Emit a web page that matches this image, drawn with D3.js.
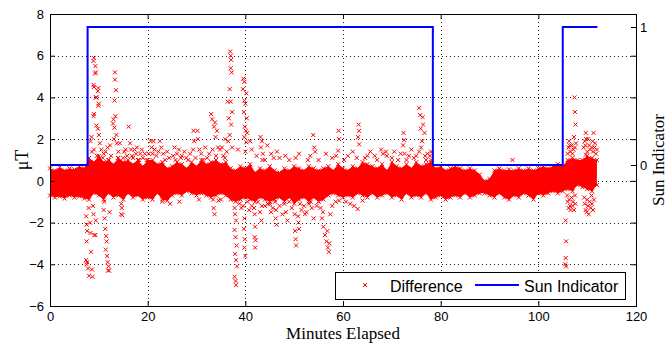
<!DOCTYPE html>
<html>
<head>
<meta charset="utf-8">
<script src="https://cdn.jsdelivr.net/npm/d3@7/dist/d3.min.js"></script>
<style>
  body { margin: 0; background: #fff; }
  svg { display: block; }
</style>
</head>
<body>
<div id="chart"></div>
<script>
// ---- data ----
var xTicks = [0, 20, 40, 60, 80, 100, 120];
var yTicks = [-6, -4, -2, 0, 2, 4, 6, 8];
var sunTicks = [0, 1];

// Sun indicator, step changes (minutes, state)
var sunMinutes = [0, 7.7, 78.4, 105.0, 112.1];
var sunState = [0, 1, 0, 1, 1];

// dense band of the difference (uT), upper / lower edge at each minute 0..112
var bandMinutes = d3.range(0, 113);
var bandHi = [
  0.6, 0.5, 0.65, 0.5, 0.6, 0.55, 0.7, 0.6, 1.1, 0.9,
  1.2, 0.9, 1.0, 0.8, 1.1, 0.9, 1.0, 0.8, 1.0, 0.7,
  1.0, 1.0, 0.8, 0.9, 0.6, 0.7, 0.9, 0.8, 0.6, 0.9,
  0.7, 1.0, 0.8, 0.9, 1.0, 0.8, 0.9, 0.6, 0.5, 0.7,
  0.6, 0.8, 0.4, 0.6, 0.5, 0.7, 0.5, 0.4, 0.6, 0.5,
  0.7, 0.6, 0.5, 0.7, 0.6, 0.5, 0.6, 0.7, 0.5, 0.8,
  0.6, 0.5, 0.7, 0.6, 0.9, 0.8, 0.7, 0.6, 0.8, 0.5,
  0.9, 0.7, 0.6, 0.8, 0.6, 0.9, 0.7, 0.8, 0.9, 0.6,
  0.7, 0.5, 0.6, 0.7, 0.6, 0.5, 0.6, 0.5, 0.3, 0.0,
  0.1, 0.5, 0.6, 0.5, 0.55, 0.5, 0.6, 0.5, 0.6, 0.5,
  0.6, 0.7, 0.6, 0.7, 0.8, 0.7, 1.0, 1.1, 1.0, 1.0,
  1.2, 1.1, 1.0
];
var bandLo = [
  -0.7, -0.8, -0.75, -0.85, -0.7, -0.8, -0.75, -0.85, -0.9, -0.6,
  -0.7, -0.9, -0.6, -0.8, -0.7, -0.9, -0.6, -0.8, -0.7, -0.9,
  -0.8, -0.9, -0.6, -0.9, -0.95, -0.7, -0.6, -0.7, -0.5, -0.6,
  -0.7, -0.6, -0.7, -0.8, -0.7, -0.6, -0.7, -0.9, -1.0, -0.9,
  -0.8, -0.9, -1.0, -0.8, -0.9, -1.0, -0.9, -0.8, -1.0, -0.8,
  -1.1, -0.9, -0.8, -1.0, -0.8, -1.0, -0.9, -0.7, -0.6, -0.7,
  -0.8, -0.7, -0.8, -0.6, -0.7, -0.8, -0.6, -0.8, -0.7, -0.6,
  -0.8, -0.7, -0.9, -0.6, -0.8, -0.7, -0.8, -0.6, -0.9, -0.8,
  -0.7, -0.9, -0.8, -0.7, -0.8, -0.6, -0.8, -0.7, -0.6, -0.6,
  -0.7, -0.8, -0.6, -0.8, -0.9, -0.7, -0.8, -0.6, -0.7, -0.9,
  -0.6, -0.7, -0.6, -0.5, -0.6, -0.5, -0.4, -0.5, -0.2, -0.3,
  -0.4, -0.5, -0.2
];

// isolated samples above the band [minute, uT]
var spikesUp = [
  [9.0,5.9],[8.9,5.75],[9.3,5.5],[9.4,5.2],[9.2,5.15],[9.0,4.5],[8.9,4.6],[9.8,4.3],[9.9,4.45],[9.4,4.0],
  [9.5,4.0],[9.9,3.6],[10.0,3.7],[8.9,3.1],[9.0,3.2],[9.5,2.65],[9.8,2.5],[10.0,2.2],[8.5,2.1],[8.3,1.9],[9.0,1.5],
  [13.3,5.2],[13.3,4.85],[13.5,4.35],[13.2,3.85],[13.4,3.1],[13.0,2.95],[12.9,2.75],[13.2,2.55],[13.6,2.2],[13.1,2.0],[13.7,1.8],
  [16.1,2.6],[16.4,1.8],[15.5,1.5],[17.8,1.6],[18.5,1.3],
  [20.6,1.9],[20.8,1.6],[21.0,1.3],[21.2,1.9],[21.4,1.5],
  [29.4,2.4],[29.5,1.9],[29.3,1.5],[30.2,2.4],[30.3,2.0],
  [33.0,3.2],[33.2,2.95],[33.6,2.6],[34.2,2.4],[33.8,2.8],[33.9,2.1],[34.4,1.6],
  [36.9,6.2],[37.0,6.0],[37.1,5.8],[37.0,5.4],[37.2,5.2],[36.8,4.4],[37.0,3.8],[36.4,3.8],[37.3,3.3],[36.6,3.0],
  [37.1,2.7],[36.8,2.2],[37.3,1.6],[36.5,1.9],
  [39.6,4.9],[39.8,4.75],[39.5,4.4],[40.2,4.2],[39.8,3.85],[40.0,3.7],[39.7,3.3],[40.3,3.0],[39.9,2.6],[40.1,2.4],
  [40.4,2.3],[39.8,2.1],[40.2,1.85],[40.0,1.4],
  [43.1,2.1],[43.4,1.9],[43.2,1.6],[43.6,1.3],[43.5,1.0],
  [53.9,2.2],[54.1,1.6],[54.3,1.4],[59.1,2.4],[59.2,2.0],[59.0,1.45],
  [63.2,2.7],[63.3,2.4],[63.1,2.1],[63.3,1.75],[67.8,1.5],[68.2,1.3],
  [72.4,2.3],[72.5,1.95],[72.3,1.7],[72.6,1.3],
  [75.6,3.5],[75.8,3.15],[76.3,3.05],[76.4,2.7],[75.9,2.5],[76.7,2.3],[76.2,1.9],[75.6,1.4],[76.8,1.2],[76.0,1.6],
  [78.0,1.4],[78.1,1.0],[94.7,1.0],
  [107.4,4.0],[107.5,3.3],[107.6,2.7],[107.3,2.1],[107.7,1.8],[107.5,1.6],[106.3,1.9],[106.4,1.7],
  [109.7,2.3],[109.8,2.0],[109.6,1.7],[109.7,1.25],[111.3,2.3],[111.5,1.6],[111.8,1.3],[111.1,1.9],
  [106.0,1.3],[106.2,1.6],[106.5,1.4],[106.8,1.7],[107.0,1.3],[107.2,1.5],[109.3,1.6],[109.5,1.9],
  [110.0,1.4],[110.2,2.0],[110.4,1.7],[110.6,1.5],[111.0,1.6],[111.2,1.4],[111.6,1.8],[112.0,1.5],
  [10.5,1.5],[11.0,1.3],[11.8,1.6],[12.5,1.2],[14.0,1.4],[15.0,1.1],[16.8,1.2],[17.3,1.5],[19.0,1.1],
  [22.5,1.9],[22.8,1.6],[23.2,1.3],[26.0,1.3],[26.8,1.1],[27.5,1.4],[28.3,1.0],[31.0,1.3],[31.8,1.6],
  [32.2,1.1],[34.8,1.5],[35.5,1.2],[35.9,2.0],[38.5,1.5],[41.0,1.9],[41.3,1.5],[44.5,1.7],[45.3,1.3],
  [47.0,1.1],[49.0,1.0],[51.0,1.3],[52.8,1.0],[57.8,1.1],[61.0,1.2],[64.5,1.1],[65.6,1.4],[66.5,1.2],
  [69.0,1.2],[70.5,1.4],[71.3,1.0],[73.5,1.2],[74.5,1.1],[77.3,1.3],
  [8.6,1.4],[9.6,1.2],[10.2,1.8],[10.8,1.1],[11.4,1.4],[12.0,1.0],[12.3,1.7],[13.9,1.1],[14.3,1.8],[15.2,1.4],
  [15.8,1.2],[16.6,1.5],[17.0,1.1],[17.6,1.3],[18.2,1.0],[18.8,1.5],[19.4,1.3],[19.8,1.0],[21.8,1.2],[22.2,1.4],
  [23.6,1.0],[24.4,1.1],[25.2,1.2],[25.7,1.0],[26.4,1.5],[27.0,1.2],[27.9,1.1],[28.7,1.3],[29.8,1.1],[30.6,1.5],
  [31.4,1.0],[32.6,1.3],[33.3,1.5],[34.0,1.2],[35.2,1.6],[35.8,1.1],[36.2,1.4],[24.0,1.4],[25.5,1.6],[20.2,1.3],
  [42.3,1.2],[44.0,1.0],[45.8,1.1],[46.5,1.4],[48.2,1.2],[50.3,1.1],[53.3,1.2],[55.0,1.0],[56.5,1.3],[58.6,1.2],
  [60.2,1.0],[62.0,1.4],[62.8,1.1],[65.0,1.2],[67.0,1.0],[68.8,1.4],[70.0,1.1],[71.8,1.3],[73.0,1.0],[74.0,1.5],
  [75.0,1.2],[77.0,1.0],[77.8,1.2]
];

// isolated samples below the band [minute, uT]
var spikesDown = [
  [7.4,-1.7],[7.5,-2.1],[7.6,-2.4],[7.5,-2.9],[7.4,-3.8],[7.5,-4.0],[7.6,-3.9],[7.8,-4.2],[8.0,-4.55],[7.9,-1.3],
  [8.2,-2.0],[8.3,-2.5],[8.4,-3.4],[8.6,-4.25],[8.7,-4.6],[8.8,-1.2],[8.9,-1.6],[9.1,-2.6],[9.3,-2.6],[9.4,-1.9],
  [11.0,-1.4],[11.2,-1.8],[11.3,-2.3],[11.5,-2.65],[11.6,-2.9],[11.4,-3.3],[11.7,-3.6],[11.8,-3.9],[12.0,-4.1],
  [11.9,-4.3],[12.1,-4.3],[12.2,-1.5],[11.1,-1.0],
  [14.6,-1.1],[14.7,-1.3],[14.6,-1.6],[14.8,-1.65],
  [33.4,-0.9],[33.5,-1.3],[33.7,-1.6],[34.5,-0.95],
  [37.7,-0.9],[37.8,-1.3],[37.9,-1.6],[38.1,-1.9],[37.8,-2.35],[38.0,-2.7],[38.2,-3.1],[37.9,-3.5],[38.1,-3.8],
  [38.3,-4.1],[37.8,-4.6],[38.0,-4.8],[38.1,-5.0],
  [39.6,-1.2],[39.8,-1.8],[39.7,-2.3],[39.9,-2.8],[39.8,-3.2],[40.0,-3.6],
  [41.8,-1.3],[41.9,-1.6],[42.0,-2.2],[41.9,-2.7],[42.1,-2.85],[42.0,-3.2],
  [43.0,-1.5],[43.3,-1.9],[43.4,-1.2],
  [46.1,-1.0],[46.3,-1.4],[46.2,-1.8],[46.4,-2.1],[45.6,-1.3],[45.0,-1.1],
  [50.2,-2.4],[50.3,-2.8],[50.4,-3.1],[50.1,-1.6],[50.8,-1.7],[50.9,-2.0],[51.0,-2.3],[51.5,-1.4],[52.0,-1.2],
  [54.0,-1.8],[53.6,-1.3],
  [55.4,-1.3],[55.7,-1.8],[56.0,-2.2],[56.3,-2.6],[56.6,-2.9],[56.9,-3.2],[57.1,-3.4],[57.2,-3.0],[56.8,-2.4],
  [57.4,-1.6],[55.9,-1.5],
  [62.3,-1.2],[63.0,-1.35],[48.0,-1.1],[48.3,-1.5],[47.6,-1.6],[48.6,-1.9],
  [40.8,-1.4],[44.0,-1.2],[49.5,-1.3],[52.5,-1.5],[53.0,-1.1],[58.5,-1.0],[61.5,-1.1],[64.0,-0.95],
  [38.8,-1.1],[39.2,-1.3],[40.4,-1.0],[41.3,-1.2],[42.6,-1.0],[44.6,-1.1],[45.3,-1.5],[47.0,-1.2],[49.0,-1.0],
  [51.2,-1.1],[52.2,-1.6],[53.4,-1.0],[54.6,-1.2],[55.0,-1.0],[57.8,-1.2],[59.2,-0.95],[60.6,-1.0],
  [23.0,-1.0],[24.6,-1.1],[26.5,-1.0],[30.5,-0.9],[35.0,-0.9],
  [105.6,-1.9],[105.7,-2.9],[105.6,-3.7],[105.7,-4.1],[105.5,-4.0],
  [105.9,-0.7],[106.0,-1.0],[106.2,-1.3],[106.3,-0.9],[106.5,-1.2],[106.6,-1.4],[106.8,-0.8],[107.0,-1.2],
  [107.1,-1.0],[107.3,-1.4],[107.5,-0.7],[107.6,-1.1],
  [109.4,-0.8],[109.5,-1.1],[109.7,-1.4],[109.9,-1.5],[110.0,-0.9],[110.2,-1.2],[110.3,-1.6],[110.5,-1.0],
  [110.7,-1.3],[110.9,-0.7],[111.0,-1.1],[111.2,-1.4],[111.4,-0.9]
];

// ---- layout ----
var svgWidth = 668;
var svgHeight = 345;
var plot = { left: 50, right: 636, top: 14, bottom: 306 };

var svg = d3.select("#chart")
  .append("svg")
  .attr("width", svgWidth)
  .attr("height", svgHeight)
  .style("background", "#fff");

var x = d3.scaleLinear().domain([0, 120]).range([plot.left, plot.right]);
var y = d3.scaleLinear().domain([-6, 8]).range([plot.bottom, plot.top]);
// right axis: sun indicator 0/1
var ySun = d3.scaleLinear().domain([0, 1]).range([165, 27]);

// grid (dotted, behind the data)
var grid = svg.append("g").attr("shape-rendering", "crispEdges");
grid.selectAll(".gx")
  .data(xTicks.slice(1, -1))
  .enter().append("line")
  .attr("x1", d => Math.round(x(d)) + 0.5).attr("x2", d => Math.round(x(d)) + 0.5)
  .attr("y1", plot.top).attr("y2", plot.bottom)
  .attr("stroke", "#222").attr("stroke-dasharray", "1,3");
grid.selectAll(".gy")
  .data(yTicks.slice(1, -1))
  .enter().append("line")
  .attr("y1", d => Math.round(y(d)) + 0.5).attr("y2", d => Math.round(y(d)) + 0.5)
  .attr("x1", plot.left).attr("x2", plot.right)
  .attr("stroke", "#222").attr("stroke-dasharray", "1,3");

// dense core of the difference samples
var band = bandMinutes.map((m, i) => ({ t: m, hi: bandHi[i], lo: bandLo[i] }));
svg.append("path")
  .datum(band)
  .attr("fill", "#ff0000")
  .attr("d", d3.area().x(d => x(d.t)).y0(d => y(d.lo)).y1(d => y(d.hi)));

// x-markers
var cross = "M-2,-2L2,2M-2,2L2,-2";
var samples = [];
band.forEach(function(d) {
  samples.push([d.t, d.hi]);
  samples.push([d.t, d.lo]);
});
spikesUp.forEach(p => samples.push(p));
spikesDown.forEach(p => samples.push(p));

svg.append("g")
  .selectAll("path")
  .data(samples)
  .enter().append("path")
  .attr("transform", d => `translate(${x(d[0])},${y(d[1])})`)
  .attr("d", cross)
  .attr("fill", "none")
  .attr("stroke", "#ff0000")
  .attr("stroke-width", 1);

// axes box and ticks
function styleAxis(g) {
  g.attr("font-family", "'Liberation Sans', Arial, sans-serif")
    .attr("font-size", 13);
  g.select(".domain").remove();
  g.selectAll("line").attr("stroke", "#000");
  g.selectAll("text").attr("fill", "#000");
}

svg.append("g")
  .attr("transform", `translate(0,${plot.bottom})`)
  .call(d3.axisBottom(x).tickValues(xTicks).tickSize(-5).tickPadding(6))
  .call(styleAxis);
svg.append("g")
  .attr("transform", `translate(0,${plot.top})`)
  .call(d3.axisTop(x).tickValues(xTicks).tickSize(-5).tickFormat(""))
  .call(styleAxis);
svg.append("g")
  .attr("transform", `translate(${plot.left},0)`)
  .call(d3.axisLeft(y).tickValues(yTicks).tickSize(-5).tickPadding(6))
  .call(styleAxis);
svg.append("g")
  .attr("transform", `translate(${plot.right},0)`)
  .call(d3.axisRight(y).tickValues(yTicks).tickSize(-5).tickFormat(""))
  .call(styleAxis);
svg.append("g")
  .attr("transform", `translate(${plot.right},0)`)
  .call(d3.axisRight(ySun).tickValues(sunTicks).tickSize(-5).tickPadding(4).tickFormat(d3.format("d")))
  .call(styleAxis);

svg.append("rect")
  .attr("x", plot.left + 0.5).attr("y", plot.top + 0.5)
  .attr("width", plot.right - plot.left).attr("height", plot.bottom - plot.top)
  .attr("fill", "none").attr("stroke", "#000")
  .attr("shape-rendering", "crispEdges");

// sun indicator step line
var sunData = sunMinutes.map((m, i) => ({ t: m, s: sunState[i] }));
svg.append("path")
  .datum(sunData)
  .attr("fill", "none")
  .attr("stroke", "#0000ff")
  .attr("stroke-width", 2)
  .attr("d", d3.line().curve(d3.curveStepAfter).x(d => x(d.t)).y(d => ySun(d.s)));

// axis labels
var serif = "'Liberation Serif', 'Times New Roman', serif";
svg.append("text")
  .attr("x", (plot.left + plot.right) / 2)
  .attr("y", 339)
  .attr("text-anchor", "middle")
  .attr("font-family", serif).attr("font-size", 17)
  .text("Minutes Elapsed");
svg.append("text")
  .attr("transform", `translate(28,${(plot.top + plot.bottom) / 2}) rotate(-90)`)
  .attr("text-anchor", "middle")
  .attr("font-family", serif).attr("font-size", 18)
  .text("\u03bcT");
svg.append("text")
  .attr("transform", `translate(664,${(plot.top + plot.bottom) / 2}) rotate(-90)`)
  .attr("text-anchor", "middle")
  .attr("font-family", serif).attr("font-size", 17)
  .text("Sun Indicator");

// legend
var legend = svg.append("g").attr("font-family", "'Liberation Sans', Arial, sans-serif").attr("font-size", 16);
legend.append("rect")
  .attr("x", 335.5).attr("y", 272.5).attr("width", 290).attr("height", 27)
  .attr("fill", "#fff").attr("stroke", "#000").attr("shape-rendering", "crispEdges");
legend.append("path")
  .attr("transform", "translate(365,285)")
  .attr("d", cross).attr("fill", "none").attr("stroke", "#ff0000").attr("stroke-width", 1);
legend.append("text").attr("x", 390).attr("y", 292).text("Difference");
legend.append("line")
  .attr("x1", 475).attr("x2", 519).attr("y1", 285).attr("y2", 285)
  .attr("stroke", "#0000ff").attr("stroke-width", 2);
legend.append("text").attr("x", 524).attr("y", 292).text("Sun Indicator");
</script>
</body>
</html>
